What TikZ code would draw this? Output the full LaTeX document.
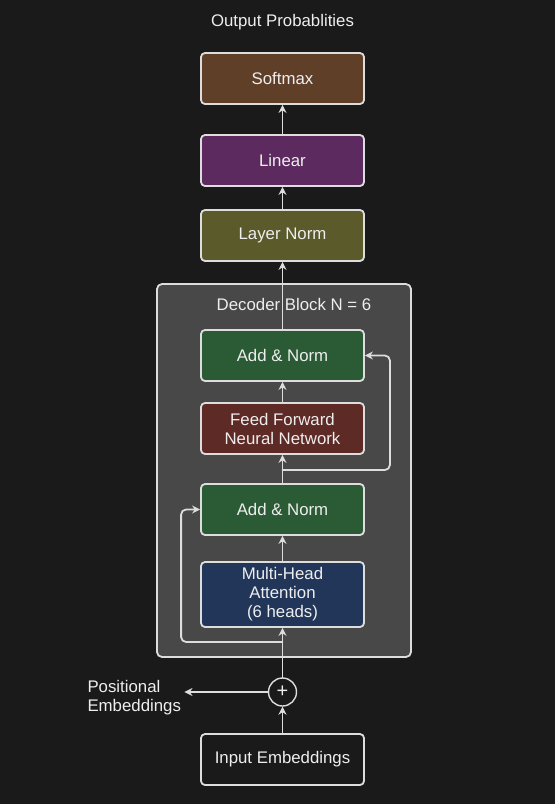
\documentclass[tikz,border=0pt]{standalone}
\usepackage{fontspec}
\setmainfont{Liberation Sans}
\usetikzlibrary{arrows.meta}
\definecolor{bgc}{HTML}{1A1A1A}
\definecolor{lin}{HTML}{DDDDDD}
\definecolor{txt}{HTML}{EEEEEE}
\definecolor{dec}{HTML}{484848}
\definecolor{smx}{HTML}{5F3F27}
\definecolor{lnr}{HTML}{5D2A5F}
\definecolor{lnm}{HTML}{5A5A2B}
\definecolor{adn}{HTML}{2B5B34}
\definecolor{ffc}{HTML}{5E2A25}
\definecolor{mhc}{HTML}{22365A}
\begin{document}
\begin{tikzpicture}[x=1pt, y=-1pt, line join=round, line cap=round, >={Stealth[length=8pt,width=8pt]}, font=\fontsize{16.8}{19}\selectfont,
	blk/.style={draw=lin, line width=1.8pt, rounded corners=4pt, minimum width=163pt, minimum height=51pt, inner sep=0pt, align=center, text=txt},
	arr/.style={draw=lin, line width=1.8pt, ->}]
			\fill[bgc] (0,0) rectangle (555,804);
			\filldraw[fill=dec, draw=lin, line width=1.8pt, rounded corners=5pt] (157,284) rectangle (411,657);
			\node[text=txt] (outp) at (282.5,22) {Output Probablities};
			\node[text=txt] (dtitle) at (294,304) {Decoder Block N = 6};
			\node[blk, fill=smx] (softmax) at (282.5,78.5) {Softmax};
			\node[blk, fill=lnr] (linear) at (282.5,160.5) {Linear};
			\node[blk, fill=lnm] (lnorm) at (282.5,235.5) {Layer Norm};
			\node[blk, fill=adn] (addtop) at (282.5,355.5) {Add \& Norm};
			\node[blk, fill=ffc] (ffn) at (282.5,428.5) {Feed Forward\\Neural Network};
			\node[blk, fill=adn] (addbot) at (282.5,509.5) {Add \& Norm};
			\node[blk, fill=mhc, minimum height=65pt] (mha) at (282.5,594.5) {Multi-Head\\Attention\\(6 heads)};
			\node[blk, fill=bgc] (input) at (282.5,759.5) {Input Embeddings};
			\node[circle, draw=lin, line width=1.4pt, fill=bgc, minimum size=28pt, inner sep=0pt, text=txt, font=\fontsize{20}{20}\selectfont] (plus) at (282.5,692) {+};
			\node[text=txt, align=left, anchor=west] (posemb) at (84,698) {Positional\\Embeddings};
			\coordinate (res1) at (282.5,642);
			\coordinate (res2) at (282.5,470);
			\draw[arr] (input) -- (plus);
			\draw[arr] (plus) -- (plus -| posemb.east);
			\draw[arr] (plus) -- (mha);
			\draw[arr] (mha) -- (addbot);
			\draw[arr] (addbot) -- (ffn);
			\draw[arr] (ffn) -- (addtop);
			\draw[arr] (addtop) -- (lnorm);
			\draw[arr] (lnorm) -- (linear);
			\draw[arr] (linear) -- (softmax);
			\draw[arr, rounded corners=5pt] (res1) -| ([xshift=-19pt]addbot.west) -- (addbot.west);
			\draw[arr, rounded corners=5pt] (res2) -| ([xshift=25pt]addtop.east) -- (addtop.east);
		\end{tikzpicture}
\end{document}
